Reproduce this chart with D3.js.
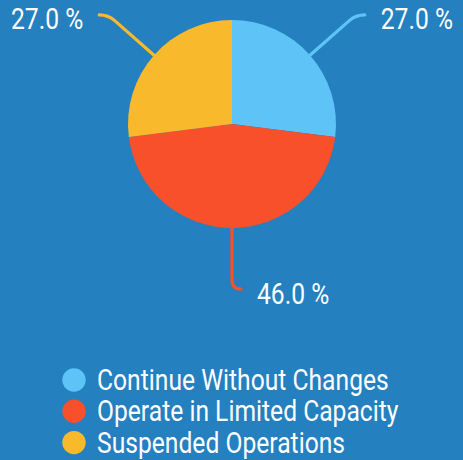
<!DOCTYPE html>
<html>
<head>
<meta charset="utf-8">
<script src="https://cdn.jsdelivr.net/npm/d3@7"></script>
<style>
  html, body { margin: 0; padding: 0; background: #2480bf; }
  svg { display: block; }
  text { font-family: Roboto, "Liberation Sans", sans-serif; fill: #fff; }
</style>
</head>
<body>
<div id="chart"></div>
<script>
// data
let categories = ["Continue Without Changes", "Operate in Limited Capacity", "Suspended Operations"];
let values = [27.0, 46.0, 27.0];
let colors = ["#5ec4f7", "#f7502b", "#f8b92d"];

let width = 463, height = 460;
let cx = 232, cy = 124, radius = 104;
let condense = 0.85;

let svg = d3.select("#chart").append("svg")
    .attr("width", width)
    .attr("height", height);

svg.append("rect")
    .attr("width", width)
    .attr("height", height)
    .attr("fill", "#2480bf");

let pie = d3.pie().sort(null).value(d => d);
let arcs = pie(values);

let arc = d3.arc().innerRadius(0).outerRadius(radius);

let g = svg.append("g")
    .attr("transform", "translate(" + cx + "," + cy + ")");

g.selectAll("path.slice")
    .data(arcs)
    .enter().append("path")
    .attr("class", "slice")
    .attr("d", arc)
    .attr("fill", (d, i) => colors[i]);

// leader lines: radial segment, then a short bend to horizontal
function pointAt(angle, r){
    return [Math.sin(angle) * r, -Math.cos(angle) * r];
}

arcs.forEach((d, i) => {
    let mid = (d.startAngle + d.endAngle) / 2;
    let p1 = pointAt(mid, radius);
    let p2 = pointAt(mid, 156);
    let corner = pointAt(mid, 165);
    let side = Math.sin(mid) >= -0.01 ? 1 : -1;
    let end = [corner[0] + side * 9, corner[1]];

    g.append("path")
        .attr("d", "M" + p1 + "L" + p2 + "Q" + corner + " " + end)
        .attr("fill", "none")
        .attr("stroke", colors[i])
        .attr("stroke-width", 3.2)
        .attr("stroke-linecap", "round");

    let label = g.append("text")
        .text(values[i].toFixed(1) + " %")
        .attr("x", end[0] + side * 16)
        .attr("y", end[1] + 14.5)
        .attr("font-size", 29)
        .attr("text-anchor", side > 0 ? "start" : "end");
    let w = label.node().getComputedTextLength();
    label.attr("textLength", w * condense).attr("lengthAdjust", "spacingAndGlyphs");
});

// legend
let legend = svg.append("g")
    .attr("transform", "translate(74,380)");

let rows = legend.selectAll("g")
    .data(categories)
    .enter().append("g")
    .attr("transform", (d, i) => "translate(0," + (i * 31.3) + ")");

rows.append("circle")
    .attr("r", 11.7)
    .attr("fill", (d, i) => colors[i]);

rows.append("text")
    .text(d => d)
    .attr("x", 23)
    .attr("y", 10)
    .attr("font-size", 29)
    .each(function(){
        let w = this.getComputedTextLength();
        d3.select(this).attr("textLength", w * condense).attr("lengthAdjust", "spacingAndGlyphs");
    });
</script>
</body>
</html>
